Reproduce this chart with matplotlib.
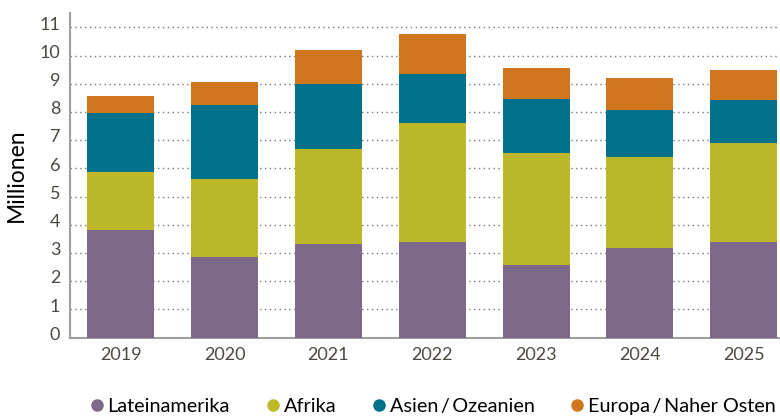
import numpy as np
import matplotlib
matplotlib.use("Agg")
import matplotlib.pyplot as plt
import matplotlib.transforms as mtransforms
from matplotlib.lines import Line2D

# Data (millions)
years = ["2019", "2020", "2021", "2022", "2023", "2024", "2025"]
lateinamerika = [3.81, 2.85, 3.32, 3.39, 2.57, 3.17, 3.39]
afrika = [2.06, 2.77, 3.36, 4.21, 3.97, 3.23, 3.51]
asien = [2.09, 2.62, 2.32, 1.74, 1.92, 1.67, 1.52]
europa = [0.60, 0.82, 1.20, 1.42, 1.10, 1.13, 1.07]

series = [
    ("Lateinamerika", lateinamerika, "#7d6a8b"),
    ("Afrika", afrika, "#bdb82a"),
    ("Asien\u2009/\u2009Ozeanien", asien, "#00718b"),
    ("Europa\u2009/\u2009Naher Osten", europa, "#d0761e"),
]

plt.rcParams["font.family"] = ["Lato", "DejaVu Sans"]

fig = plt.figure(figsize=(7.8, 4.19), dpi=100)
ax = fig.add_axes([0.0897, 0.1945, 0.9103, 0.7752])

x = np.arange(len(years))
bottom = np.zeros(len(years))
for name, vals, color in series:
    ax.bar(x, vals, width=0.645, bottom=bottom, color=color, label=name,
           zorder=3, linewidth=0)
    bottom += np.array(vals)

ax.set_xlim(-0.49, 6.35)
ax.set_ylim(0, 11.52)
ax.set_yticks(range(0, 12))
ax.set_xticks(x)
ax.set_xticklabels(years)

ax.grid(True, axis="y", linestyle=(0, (1, 2.5)), color="#777777",
        linewidth=1.0, zorder=0)
ax.tick_params(axis="both", length=0, labelsize=13, labelcolor="#4d4840")
ax.tick_params(axis="y", pad=7)
ax.tick_params(axis="x", pad=7)

# y labels sit a little above their gridlines in the reference
offset = mtransforms.ScaledTranslation(0, 3 / 72, fig.dpi_scale_trans)
for lbl in ax.get_yticklabels():
    lbl.set_transform(lbl.get_transform() + offset)

for side in ["top", "right"]:
    ax.spines[side].set_visible(False)
for side in ["left", "bottom"]:
    ax.spines[side].set_color("#a0a09a")
    ax.spines[side].set_linewidth(1.5)

ax.set_ylabel("Millionen", fontsize=16.5, color="black", labelpad=9)

handles = [Line2D([], [], marker="o", linestyle="none", markersize=8,
                  markerfacecolor=c, markeredgecolor=c) for _, _, c in series]
fig.legend(handles, [s[0] for s in series], loc="center",
           bbox_to_anchor=(0.553, 0.029), ncol=4, frameon=False,
           fontsize=14.3, handletextpad=0.05, columnspacing=1.65,
           handlelength=1.0)

fig.savefig("out.png", dpi=100)
